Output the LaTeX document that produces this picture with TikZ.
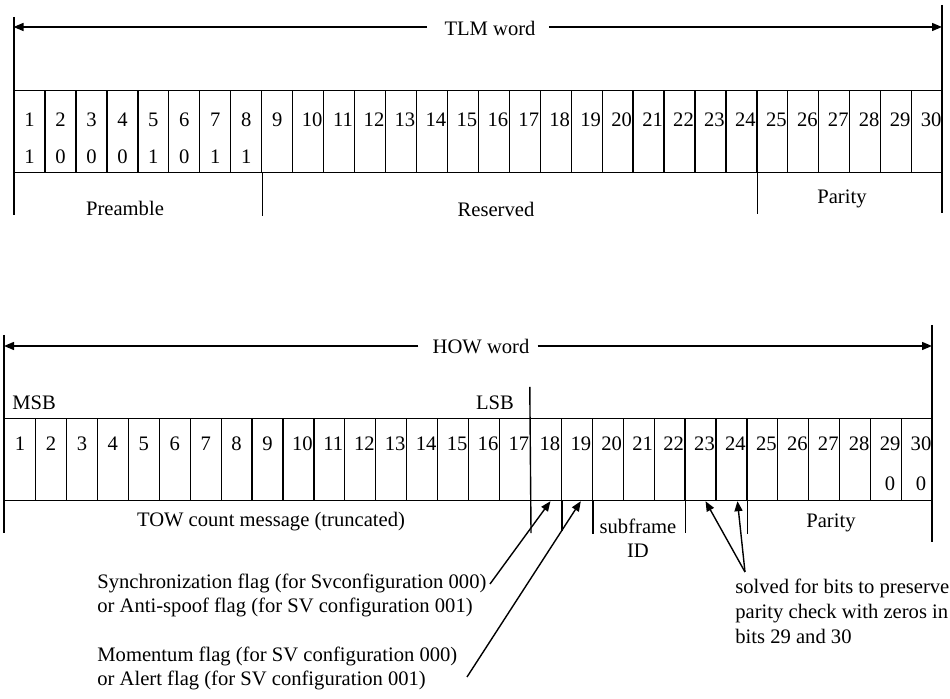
\documentclass[tikz,border=0pt]{standalone}
\usepackage{fontspec}
\setmainfont{Liberation Serif}
\usetikzlibrary{arrows.meta,calc}
\begin{document}
\begin{tikzpicture}[x=0.5pt,y=-0.5pt,
  cell/.style={draw, line width=0.6pt, rectangle, inner sep=0pt, minimum width=15.47pt, minimum height=41pt, anchor=north west},
  num/.style={inner sep=0pt, font=\fontsize{10.3}{12}\selectfont},
  lbl/.style={inner sep=0pt, font=\fontsize{10.3}{12}\selectfont},
  note/.style={inner sep=0pt, anchor=north west, align=left, font=\fontsize{10.3}{11.7}\selectfont},
  frame/.style={line width=1pt},
  tick/.style={line width=0.7pt},
  arr/.style={line width=0.7pt, -{Triangle[length=5pt,width=4pt]}},
]
\useasboundingbox (0,0) rectangle (950,699);

% ---------------- TLM word ----------------
\foreach \i in {1,...,30}{
  \pgfmathsetmacro\xl{13.5+(\i-1)*30.95}
  \node[cell] (tc\i) at (\xl,90) {};
  \ifnum\i>9
    \node[num] (tn\i) at ($(tc\i.north)+(4,30)$) {\i};
  \else
    \node[num] (tn\i) at ($(tc\i.north)+(0,30)$) {\i};
  \fi
}
\foreach \i/\b in {1/1,2/0,3/0,4/0,5/1,6/0,7/1,8/1}{
  \node[num] (tb\i) at ($(tc\i.north)+(0,67)$) {\b};
}
\coordinate (tlTop) at (13.5,17);
\coordinate (tlBot) at (13.5,215);
\coordinate (trTop) at (942,5);
\coordinate (trBot) at (942,213);
\draw[frame] (tlTop) -- (tlBot);
\draw[frame] (trTop) -- (trBot);
\node[lbl] (tlm) at (490,28) {TLM word};
\coordinate (tlmL) at (13.5,27);
\coordinate (tlmR) at (942,27);
\draw[arr] ([xshift=-8.5pt,yshift=0.5pt]tlm.west) -- (tlmL);
\draw[arr] ([xshift=6.5pt,yshift=0.5pt]tlm.east) -- (tlmR);
\draw[tick] (tc8.south east) -- ++(0,43);
\draw[tick] (tc24.south east) -- ++(0,41);
\node[lbl] (pre) at (125,208) {Preamble};
\node[lbl] (res) at (496,209) {Reserved};
\node[lbl] (par1) at (842,199) {Parity};

% ---------------- HOW word ----------------
\foreach \i in {1,...,30}{
  \pgfmathsetmacro\xl{4+(\i-1)*30.93}
  \node[cell] (bc\i) at (\xl,418) {};
  \ifnum\i>9
    \node[num] (bn\i) at ($(bc\i.north)+(4,26)$) {\i};
  \else
    \node[num] (bn\i) at ($(bc\i.north)+(0,26)$) {\i};
  \fi
}
\node[num] (bz29) at ($(bc29.north)+(4,66)$) {0};
\node[num] (bz30) at ($(bc30.north)+(4,66)$) {0};
\coordinate (blTop) at (4,335);
\coordinate (blBot) at (4,533);
\coordinate (brTop) at (932,325);
\coordinate (brBot) at (932,542);
\draw[frame] (blTop) -- (blBot);
\draw[frame] (brTop) -- (brBot);
\node[lbl] (how) at (481,347) {HOW word};
\coordinate (howL) at (4,346);
\coordinate (howR) at (932,346);
\draw[arr] ([xshift=-7pt,yshift=0.5pt]how.west) -- (howL);
\draw[arr] ([xshift=4pt,yshift=0.5pt]how.east) -- (howR);
\node[lbl, anchor=west] (msb) at (12,403) {MSB};
\node[lbl] (lsb) at (495,403) {LSB};
\coordinate (lsbTop) at (529.8,387);
\draw[tick] (lsbTop) -- ($(bc17.south east)+(0,32)$);
\draw[tick] (bc18.south east) -- ++(0,30);
\draw[tick] (bc19.south east) -- ++(0,33);
\draw[tick] (bc22.south east) -- ++(0,32);
\draw[tick] (bc24.south east) -- ++(0,33);
\node[lbl] (tow) at (271,522) {TOW count message (truncated)};
\node[lbl, align=center] (sub) at (638,538) {subframe\\ID};
\node[lbl] (par2) at (831,523) {Parity};

% ---------------- notes ----------------
\node[note] (sync) at (97,574) {Synchronization flag (for Svconfiguration 000)\\or Anti-spoof flag (for SV configuration 001)};
\node[note] (mom) at (97,647) {Momentum flag (for SV configuration 000)\\or Alert flag (for SV configuration 001)};
\node[note, font=\fontsize{10.3}{12.4}\selectfont] (solv) at (735,579) {solved for bits to preserve\\parity check with zeros in\\bits 29 and 30};
\coordinate (a1) at (490,584);
\coordinate (a2) at (467,677);
\coordinate (a3) at (745,572);
\draw[arr] (a1) -- ([xshift=2.3pt]bc18.south);
\draw[arr] (a2) -- ([xshift=2pt]bc19.south);
\draw[arr] (a3) -- ([xshift=2.5pt]bc23.south);
\draw[arr] (a3) -- ([xshift=3pt]bc24.south);
\end{tikzpicture}
\end{document}
